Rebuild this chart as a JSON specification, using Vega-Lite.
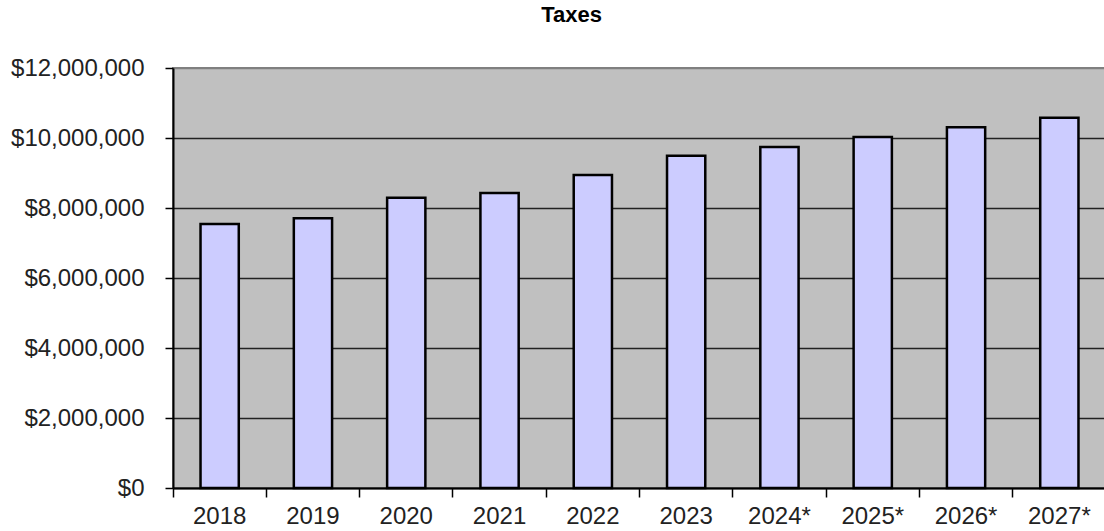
{
  "$schema": "https://vega.github.io/schema/vega-lite/v6.json",
  "autosize": "none",
  "padding": {"left": 173, "top": 68, "right": 0, "bottom": 43},
  "width": 933,
  "height": 420,
  "background": "#ffffff",
  "title": {
    "text": "Taxes",
    "font": "Liberation Sans",
    "fontSize": 22,
    "fontWeight": "bold",
    "color": "#000000",
    "anchor": "middle",
    "dx": -68,
    "offset": 29
  },
  "config": {
    "view": {"fill": "#C0C0C0", "stroke": "#808080", "strokeWidth": 2},
    "axis": {"labelFont": "Liberation Sans", "labelFontSize": 24, "labelColor": "#222222"}
  },
  "data": {
    "values": [
      {"year": "2018", "taxes": 7540000},
      {"year": "2019", "taxes": 7710000},
      {"year": "2020", "taxes": 8290000},
      {"year": "2021", "taxes": 8430000},
      {"year": "2022", "taxes": 8940000},
      {"year": "2023", "taxes": 9490000},
      {"year": "2024*", "taxes": 9740000},
      {"year": "2025*", "taxes": 10030000},
      {"year": "2026*", "taxes": 10310000},
      {"year": "2027*", "taxes": 10580000}
    ]
  },
  "mark": {"type": "bar", "fill": "#CCCCFF", "stroke": "#000000", "strokeWidth": 2.5, "width": {"band": 0.41}},
  "encoding": {
    "x": {
      "field": "year",
      "type": "ordinal",
      "sort": null,
      "scale": {"paddingInner": 0, "paddingOuter": 0},
      "axis": {
        "title": null,
        "labelAngle": 0,
        "bandPosition": 0,
        "tickSize": 9,
        "tickColor": "#000000",
        "tickWidth": 1.5,
        "domainColor": "#000000",
        "domainWidth": 2,
        "labelPadding": 7,
        "labelBaseline": "top",
        "grid": false
      }
    },
    "y": {
      "field": "taxes",
      "type": "quantitative",
      "scale": {"domain": [0, 12000000], "nice": false},
      "axis": {
        "title": null,
        "values": [0, 2000000, 4000000, 6000000, 8000000, 10000000, 12000000],
        "format": "$,.0f",
        "tickSize": 8,
        "tickColor": "#000000",
        "tickWidth": 1.5,
        "domainColor": "#000000",
        "domainWidth": 2,
        "labelPadding": 21,
        "grid": true,
        "gridColor": {"condition": {"test": "datum.value >= 12000000", "value": "#808080"}, "value": "#222222"},
        "gridWidth": 1.5,
        "gridOpacity": 1
      }
    }
  }
}
